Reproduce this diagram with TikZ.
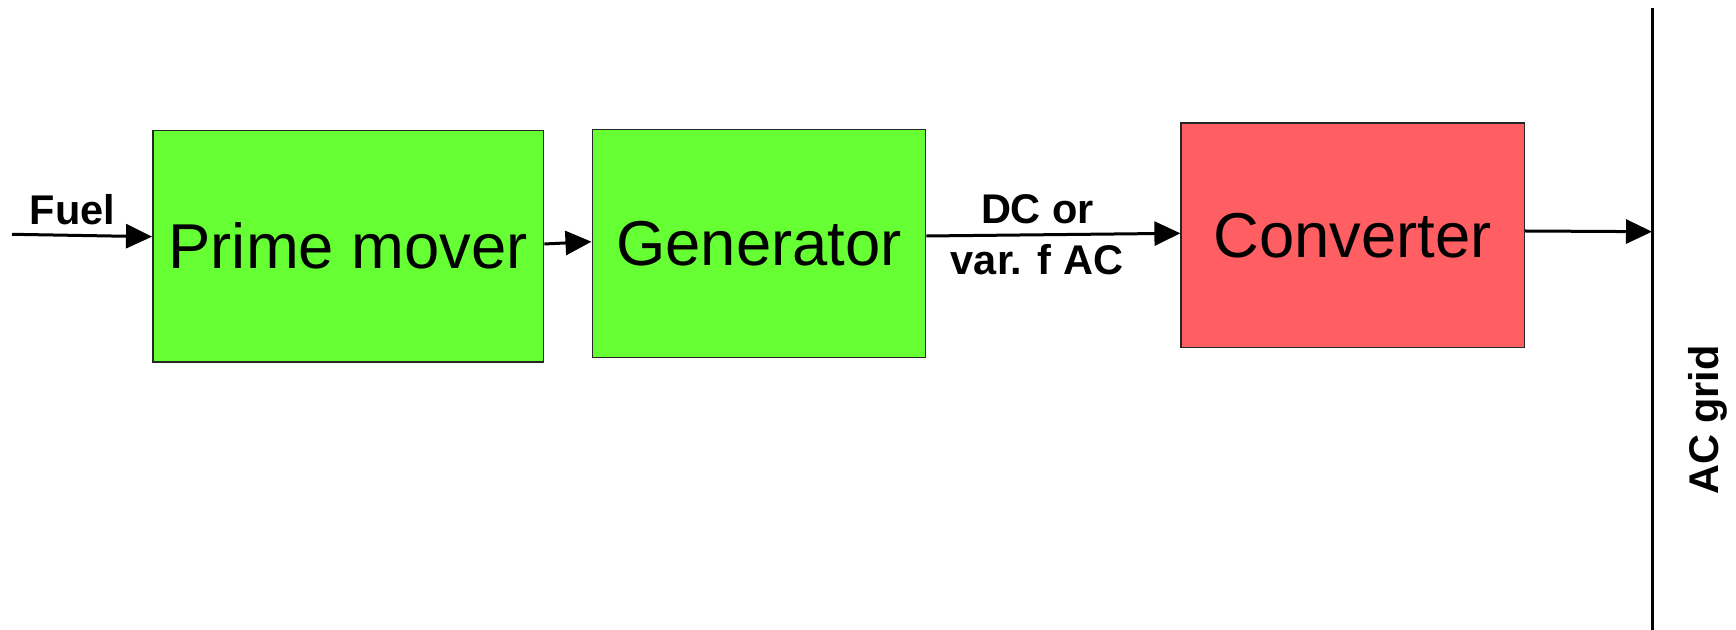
\documentclass[tikz,border=0pt]{standalone}
\usepackage{fontspec}
\setmainfont{Liberation Sans}
\usetikzlibrary{arrows.meta,calc}
\definecolor{boxgreen}{HTML}{66FF33}
\definecolor{boxred}{HTML}{FF5E62}
\begin{document}
\begin{tikzpicture}[x=0.5pt,y=-0.5pt,
  blockbox/.style={draw=black!85,line width=0.8pt,inner sep=0pt,
    font=\fontsize{31.7}{38}\selectfont},
  flow/.style={line width=1.5pt,-{Triangle[length=13pt,width=12pt]}},
  lbl/.style={inner sep=0pt,anchor=base,font=\fontsize{20.75}{25}\selectfont\bfseries}]
\useasboundingbox (0,0) rectangle (1736,630);
\node[blockbox,fill=boxgreen,minimum width=195.4pt,minimum height=115.7pt] (pm) at (348.2,246.3) {Prime mover};
\node[blockbox,fill=boxgreen,minimum width=166.6pt,minimum height=114pt] (gen) at (758.9,243.6) {Generator};
\node[blockbox,fill=boxred,minimum width=171.6pt,minimum height=112.4pt] (conv) at (1352.8,235.2) {Converter};
\coordinate (fuelstart) at (12,234.3);
\coordinate (gridtop) at (1652,8);
\coordinate (gridbot) at (1652,632);
\coordinate (gridin) at (1652,231.7);
\draw[line width=1.5pt] (gridtop) -- (gridbot);
\draw[flow] (fuelstart) -- ($(pm.west)+(0,-9.6)$);
\draw[flow] ($(pm.east)+(0,-2.3)$) -- ($(gen.west)+(0,-1.9)$);
\draw[flow] ($(gen.east)+(0,-7.6)$) -- ($(conv.west)+(0,-1.9)$);
\draw[flow] ($(conv.east)+(0,-4.2)$) -- (gridin);
\node[lbl] (fuel) at (72.5,225) {Fuel};
\node[lbl] (dcor) at (1037.5,224) {DC or};
\node[lbl] (varf) at (1037,275) {var. f AC};
\node[lbl,rotate=90] (acgrid) at (1718,420) {AC grid};
\end{tikzpicture}
\end{document}
